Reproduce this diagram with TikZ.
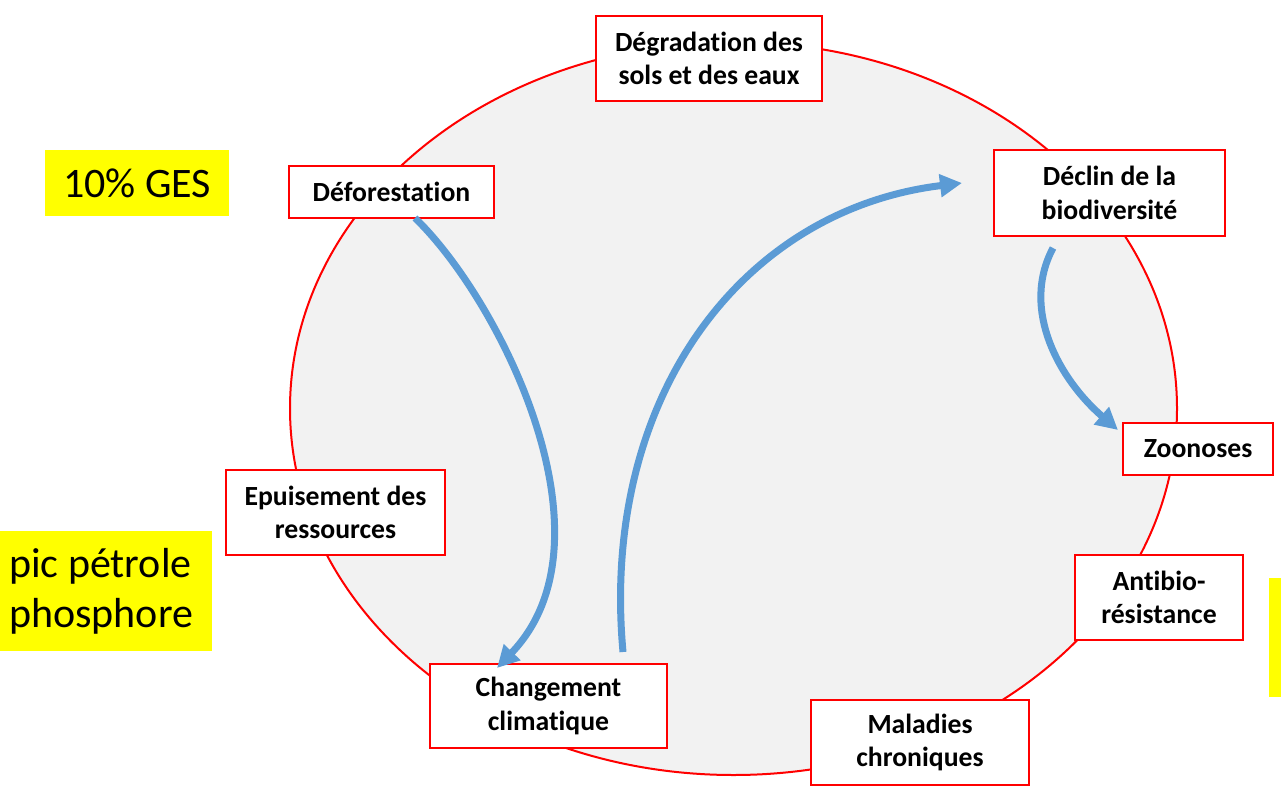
\documentclass[tikz,border=0pt]{standalone}
\usepackage{fontspec}
\setmainfont{Carlito}[Ligatures={NoCommon}]
\usetikzlibrary{arrows.meta}
\definecolor{ringred}{HTML}{FF0000}
\definecolor{ringfill}{HTML}{F2F2F2}
\definecolor{flowblue}{HTML}{5B9BD5}
\definecolor{notey}{HTML}{FFFF00}
\tikzset{
  box/.style={draw=ringred, line width=2pt, fill=white, inner sep=0pt,
    align=center, font=\bfseries\fontsize{27.7}{33.5}\selectfont},
  note/.style={fill=notey, inner sep=0pt, font=\fontsize{42}{50}\selectfont},
  flow/.style={draw=flowblue, line width=7pt,
    -{Triangle[length=22pt,width=22pt]}}
}
\begin{document}
\begin{tikzpicture}[x=1pt,y=-1pt]
\useasboundingbox (0,0) rectangle (1281,795);
% central ring
\draw[ringred, line width=2pt, fill=ringfill] (733.5,408.5) ellipse [x radius=443.5pt, y radius=366.5pt];
% boxes around the ring
\node[box, minimum width=226pt, minimum height=85pt] (degr) at (709,58.5) {Dégradation des\\sols et des eaux};
\node[box, minimum width=205pt, minimum height=52pt] (defor) at (391.5,192) {Déforestation};
\node[box, minimum width=231pt, minimum height=86pt] (declin) at (1109.5,193) {Déclin de la\\biodiversité};
\node[box, minimum width=150pt, minimum height=52pt] (zoo) at (1198,449) {Zoonoses};
\node[box, minimum width=168pt, minimum height=85pt] (anti) at (1159,597.5) {Antibio-\\résistance};
\node[box, minimum width=218pt, minimum height=85pt] (malad) at (920,742.5) {Maladies\\chroniques};
\node[box, minimum width=237pt, minimum height=84pt] (clim) at (548.5,706) {Changement\\climatique};
\node[box, minimum width=219pt, minimum height=85pt] (epuis) at (335.5,512.5) {Epuisement des\\ressources};
% yellow notes
\node[note, minimum width=184pt, minimum height=66pt] (ges) at (137,183) {10\% GES};
\node[fill=notey, inner sep=0pt, minimum width=212pt, minimum height=120pt] (pic) at (106,591) {};
\node[font=\fontsize{42}{50}\selectfont, align=left, anchor=west, inner sep=0pt] (pictxt) at (9,591) {pic pétrole\\phosphore};
\node[fill=notey, inner sep=0pt, minimum width=12pt, minimum height=119pt] (strip) at (1275,637.5) {};
% arrow end points
\coordinate (a1s) at (415,218);
\coordinate (a1e) at (497,668);
\coordinate (a2s) at (623,652);
\coordinate (a2e) at (962,183);
\coordinate (a3s) at (1053,248);
\coordinate (a3e) at (1118,430);
% causal arrows
\draw[flow] (a1s) .. controls (500,300) and (620,540) .. (a1e);
\draw[flow] (a2s) .. controls (600,400) and (740,210) .. (a2e);
\draw[flow] (a3s) .. controls (1020,310) and (1060,380) .. (a3e);
\end{tikzpicture}
\end{document}
